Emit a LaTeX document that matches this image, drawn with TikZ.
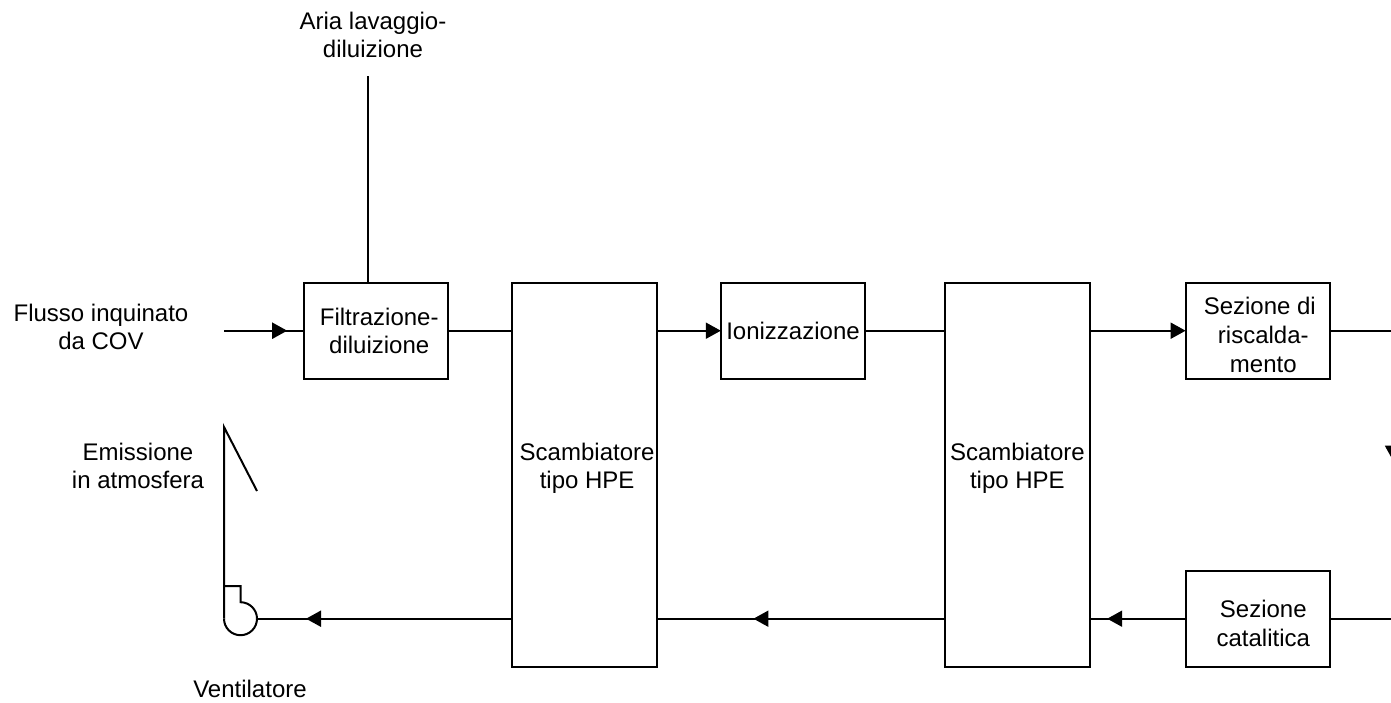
\documentclass[tikz,border=0pt]{standalone}
\usepackage{fontspec}
\setmainfont{Liberation Sans}
\usetikzlibrary{arrows.meta, positioning, decorations.markings}

\begin{document}
\begin{tikzpicture}[
  x=1pt, y=-1pt,
  font=\fontsize{24}{28}\selectfont,
  blockbox/.style={rectangle, draw, minimum width=144.4pt, minimum height=96pt, inner sep=0pt, outer sep=0pt, align=center},
  tallbox/.style={blockbox, minimum height=384pt, text depth=18pt},
  lab/.style={align=center, inner sep=0pt},
  flow/.style={postaction={decorate}, decoration={markings, mark=at position #1 with {\arrow{tip}}}},
  tip/.tip={Triangle[length=15pt, width=16pt]},
  >=tip,
  line width=2pt
]
  \useasboundingbox (0,0) rectangle (1391,702);
  \clip (0,0) rectangle (1391,702);

  \node[blockbox] (filtro) at (376.2,330.7) {\hspace*{6pt}Filtrazione-\\\hspace*{6pt}diluizione};
  \node[tallbox, below right=0pt and 64pt of filtro.north east] (hpe1) {\hspace*{5pt}Scambiatore\\\hspace*{5pt}tipo HPE};
  \node[blockbox, below right=0pt and 64pt of hpe1.north east] (ion) {Ionizzazione};
  \node[tallbox, below right=0pt and 80pt of ion.north east] (hpe2) {Scambiatore\\tipo HPE};
  \node[blockbox, below right=0pt and 96pt of hpe2.north east, text height=84.5pt] (risc) {\hspace*{4pt}Sezione di\\[1pt]\hspace*{11pt}riscalda-\\[1pt]\hspace*{11pt}mento};
  \node[blockbox, below=192pt of risc.south, text height=56.5pt] (cat) {\hspace*{11pt}Sezione\\[1pt]\hspace*{11pt}catalitica};

  \node[lab] (aria) at (373,34.5) {Aria lavaggio-\\diluizione};
  \node[lab] (flusso) at (101,326.5) {Flusso inquinato\\da COV};
  \node[lab] (emiss) at (138,466.3) {Emissione\\in atmosfera};
  \node[lab] (vent) at (250,688.5) {Ventilatore};

  \coordinate (ariaend) at (368.3,76);
  \coordinate (inlet) at (224,330.7);
  \coordinate (fan) at (257,618.7);
  \coordinate (stack) at (224,427);
  \coordinate (dx1) at (1393,330.7);
  \coordinate (dx2) at (1393,618.7);

  \draw (ariaend) -- (ariaend |- filtro.north);
  \draw[flow=0.79] (inlet) -- (filtro.west);
  \draw (filtro.east) -- (filtro.east -| hpe1.west);
  \draw[->] (hpe1.east |- ion.west) -- (ion.west);
  \draw (ion.east) -- (ion.east -| hpe2.west);
  \draw[->] (hpe2.east |- risc.west) -- (risc.west);
  \draw (risc.east) -- (dx1);
  \draw[flow=0.451] (dx1) -- (dx2);
  \draw (dx2) -- (cat.east);

  \draw[flow=0.817] (cat.west) -- (cat.west -| hpe2.east);
  \draw[flow=0.665] (hpe2.west |- cat.west) -- (hpe1.east |- cat.west);
  \draw[flow=0.808] (hpe1.west |- cat.west) -- (fan);

  % ventilatore e camino
  \draw (fan) arc[start angle=0, end angle=-180, radius=16.5pt];
  \draw (224,618.7) -- (stack) -- (257,491);
  \draw (224,586) -- (240.5,586) -- (240.5,602.2) arc[start angle=90, end angle=0, radius=16.5pt];
\end{tikzpicture}
\end{document}
